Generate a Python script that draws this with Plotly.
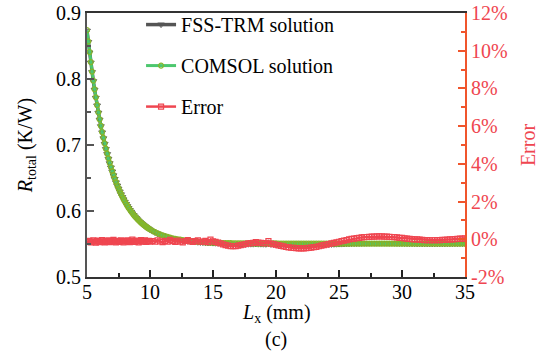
import plotly.graph_objects as go

# ---- data ----
Lx = [5.0, 5.1, 5.2, 5.3, 5.4, 5.5, 5.6, 5.7, 5.8, 5.9,
      6.0, 6.1, 6.2, 6.3, 6.4, 6.5, 6.6, 6.7, 6.8, 6.9,
      7.0, 7.1, 7.2, 7.3, 7.4, 7.5, 7.6, 7.7, 7.8, 7.9,
      8.0, 8.1, 8.2, 8.3, 8.4, 8.5, 8.6, 8.7, 8.8, 8.9,
      9.0, 9.1, 9.2, 9.3, 9.4, 9.5, 9.6, 9.7, 9.8, 9.9,
      10.0,
      10.2, 10.4, 10.6, 10.8, 11.0, 11.2, 11.4, 11.6, 11.8, 12.0,
      12.2, 12.4, 12.6, 12.8, 13.0, 13.2, 13.4, 13.6, 13.8, 14.0,
      14.2, 14.4, 14.6, 14.8, 15.0, 15.2, 15.4, 15.6, 15.8, 16.0,
      16.2, 16.4, 16.6, 16.8, 17.0, 17.2, 17.4, 17.6, 17.8, 18.0,
      18.2, 18.4, 18.6, 18.8, 19.0, 19.2, 19.4,
      19.6, 19.8, 20.0, 20.2, 20.4, 20.6, 20.8, 21.0, 21.2, 21.4, 21.6, 21.8, 22.0,
      22.2, 22.4, 22.6, 22.8, 23.0, 23.2, 23.4, 23.6, 23.8, 24.0,
      24.2, 24.4, 24.6, 24.8, 25.0, 25.2, 25.4, 25.6, 25.8, 26.0,
      26.2, 26.4, 26.6, 26.8, 27.0, 27.2, 27.4, 27.6, 27.8, 28.0,
      28.2, 28.4, 28.6, 28.8, 29.0, 29.2, 29.4, 29.6, 29.8, 30.0,
      30.2, 30.4, 30.6, 30.8, 31.0, 31.2, 31.4, 31.6, 31.8, 32.0,
      32.2, 32.4, 32.6, 32.8, 33.0, 33.2, 33.4, 33.6, 33.8, 34.0,
      34.2, 34.4, 34.6, 34.8, 35.0]

R_comsol = [0.8740, 0.8570, 0.8409, 0.8256, 0.8112, 0.7975, 0.7845, 0.7722, 0.7605, 0.7495,
            0.7390, 0.7291, 0.7197, 0.7108, 0.7024, 0.6944, 0.6869, 0.6797, 0.6729, 0.6665,
            0.6604, 0.6546, 0.6491, 0.6439, 0.6390, 0.6344, 0.6300, 0.6258, 0.6218, 0.6181,
            0.6145, 0.6112, 0.6080, 0.6050, 0.6021, 0.5994, 0.5968, 0.5944, 0.5921, 0.5899,
            0.5878, 0.5859, 0.5840, 0.5822, 0.5806, 0.5790, 0.5775, 0.5761, 0.5747, 0.5735,
            0.5722,
            0.5700, 0.5680, 0.5662, 0.5646, 0.5632, 0.5619, 0.5607, 0.5597, 0.5587, 0.5579,
            0.5571, 0.5565, 0.5558, 0.5553, 0.5548, 0.5544, 0.5540, 0.5536, 0.5533, 0.5530,
            0.5528, 0.5525, 0.5523, 0.5521, 0.5520, 0.5518, 0.5517, 0.5516, 0.5515, 0.5514,
            0.5513, 0.5512, 0.5511, 0.5511, 0.5510, 0.5509, 0.5509, 0.5509, 0.5509, 0.5509,
            0.5508, 0.5508, 0.5508, 0.5508, 0.5508, 0.5508, 0.5508,
            0.5508, 0.5508, 0.5508, 0.5507, 0.5507, 0.5507, 0.5507, 0.5507, 0.5507, 0.5507, 0.5507, 0.5507, 0.5507,
            0.5506, 0.5506, 0.5506, 0.5506, 0.5506, 0.5506, 0.5506, 0.5506, 0.5506, 0.5506,
            0.5506, 0.5506, 0.5506, 0.5506, 0.5506, 0.5505, 0.5505, 0.5505, 0.5505, 0.5505,
            0.5505, 0.5505, 0.5505, 0.5505, 0.5505, 0.5505, 0.5505, 0.5505, 0.5505, 0.5505,
            0.5505, 0.5505, 0.5505, 0.5505, 0.5505, 0.5505, 0.5505, 0.5505, 0.5505, 0.5505,
            0.5505, 0.5505, 0.5505, 0.5505, 0.5505, 0.5505, 0.5505, 0.5505, 0.5505, 0.5505,
            0.5505, 0.5505, 0.5505, 0.5505, 0.5505, 0.5505, 0.5505, 0.5505, 0.5505, 0.5505,
            0.5505, 0.5505, 0.5505, 0.5505, 0.5505]

R_fss = [0.8731, 0.8561, 0.8401, 0.8248, 0.8104, 0.7967, 0.7837, 0.7714, 0.7598, 0.7488,
         0.7383, 0.7284, 0.7190, 0.7101, 0.7017, 0.6938, 0.6862, 0.6791, 0.6723, 0.6659,
         0.6598, 0.6540, 0.6485, 0.6433, 0.6384, 0.6338, 0.6294, 0.6252, 0.6212, 0.6175,
         0.6139, 0.6106, 0.6074, 0.6044, 0.6015, 0.5988, 0.5962, 0.5938, 0.5915, 0.5893,
         0.5872, 0.5853, 0.5834, 0.5816, 0.5800, 0.5784, 0.5769, 0.5755, 0.5741, 0.5729,
         0.5716,
         0.5694, 0.5674, 0.5656, 0.5640, 0.5626, 0.5613, 0.5601, 0.5591, 0.5581, 0.5573,
         0.5565, 0.5559, 0.5552, 0.5547, 0.5542, 0.5538, 0.5534, 0.5530, 0.5527, 0.5524,
         0.5522, 0.5519, 0.5517, 0.5515, 0.5514, 0.5512, 0.5511, 0.5504, 0.5500, 0.5497,
         0.5494, 0.5492, 0.5491, 0.5491, 0.5491, 0.5492, 0.5494, 0.5495, 0.5497, 0.5498,
         0.5498, 0.5500, 0.5498, 0.5498, 0.5497, 0.5496, 0.5502,
         0.5495, 0.5494, 0.5492, 0.5489, 0.5488, 0.5486, 0.5484, 0.5483, 0.5482, 0.5482, 0.5481, 0.5481, 0.5481,
         0.5480, 0.5480, 0.5481, 0.5482, 0.5483, 0.5484, 0.5486, 0.5487, 0.5489, 0.5491,
         0.5492, 0.5494, 0.5496, 0.5497, 0.5499, 0.5499, 0.5501, 0.5503, 0.5504, 0.5506,
         0.5507, 0.5508, 0.5509, 0.5510, 0.5511, 0.5512, 0.5512, 0.5513, 0.5513, 0.5513,
         0.5513, 0.5513, 0.5513, 0.5513, 0.5512, 0.5512, 0.5511, 0.5510, 0.5509, 0.5509,
         0.5508, 0.5507, 0.5506, 0.5506, 0.5505, 0.5504, 0.5504, 0.5503, 0.5503, 0.5503,
         0.5502, 0.5502, 0.5502, 0.5503, 0.5503, 0.5503, 0.5503, 0.5504, 0.5504, 0.5505,
         0.5506, 0.5506, 0.5507, 0.5507, 0.5508]

error_pct = [-0.10, -0.14, -0.08, -0.16, -0.12, -0.05, -0.13, -0.18, -0.10, -0.07,
             -0.15, -0.11, -0.04, -0.14, -0.17, -0.09, -0.12, -0.06, -0.15, -0.10,
             -0.13, -0.03, -0.11, -0.16, -0.08, -0.12, -0.14, -0.05, -0.10, -0.17,
             -0.09, -0.13, -0.06, -0.11, -0.15, -0.08, -0.02, -0.12, -0.14, -0.07,
             -0.10, -0.16, -0.09, -0.04, -0.13, -0.11, -0.06, -0.14, -0.10, -0.08,
             -0.12,
             -0.09, -0.13, -0.05, -0.11, -0.15, -0.08, -0.12, -0.03, -0.10, -0.14,
             -0.07, -0.12, -0.16, -0.09, -0.04, -0.11, -0.14, -0.10, -0.06, -0.13,
             -0.12, -0.08, -0.15, -0.02, -0.11, -0.14, -0.18, -0.22, -0.27, -0.31,
             -0.34, -0.36, -0.37, -0.36, -0.34, -0.31, -0.28, -0.25, -0.22, -0.20,
             -0.19, -0.15, -0.18, -0.19, -0.20, -0.21, -0.10,
             -0.23, -0.26, -0.29, -0.32, -0.35, -0.38, -0.41, -0.43, -0.45, -0.46, -0.47, -0.48, -0.48,
             -0.48, -0.47, -0.46, -0.44, -0.42, -0.40, -0.37, -0.34, -0.31, -0.28,
             -0.25, -0.22, -0.19, -0.16, -0.13, -0.10, -0.07, -0.04, -0.01, 0.02,
             0.04, 0.06, 0.08, 0.10, 0.11, 0.12, 0.13, 0.14, 0.14, 0.15,
             0.15, 0.15, 0.14, 0.14, 0.13, 0.12, 0.11, 0.10, 0.08, 0.07,
             0.05, 0.04, 0.02, 0.01, 0.00, -0.01, -0.02, -0.03, -0.04, -0.04,
             -0.05, -0.05, -0.05, -0.04, -0.04, -0.03, -0.03, -0.02, -0.01, 0.00,
             0.01, 0.02, 0.03, 0.04, 0.05]

x_ticks = [5, 10, 15, 20, 25, 30, 35]
y_ticks = [0.5, 0.6, 0.7, 0.8, 0.9]
y_ticktext = ["0.5", "0.6", "0.7", "0.8", "0.9"]
y2_ticks = [-2, 0, 2, 4, 6, 8, 10, 12]
y2_ticktext = ["-2%", "0%", "2%", "4%", "6%", "8%", "10%", "12%"]

FONT = "Liberation Serif"
GREY = "#555555"
GREEN = "#4CC76E"
OLIVE = "#86B52A"
RED = "#EF4650"
ORANGE = "#F0552C"

fig = go.Figure()
fig.add_trace(go.Scatter(
    x=Lx, y=R_fss, name="FSS-TRM solution", mode="lines+markers",
    legendgroup="a",
    line=dict(color=GREY, width=3.5),
    marker=dict(symbol="triangle-down-open", size=6, color=GREY, line=dict(width=1, color=GREY)),
))
fig.add_trace(go.Scatter(
    x=Lx, y=R_comsol, name="COMSOL solution", mode="lines+markers",
    legendgroup="b",
    line=dict(color=GREEN, width=3),
    marker=dict(symbol="circle-open", size=5, color=OLIVE, line=dict(width=1.2, color=OLIVE)),
))
fig.add_trace(go.Scatter(
    x=Lx, y=error_pct, name="Error", mode="lines+markers", yaxis="y2",
    legendgroup="c",
    line=dict(color=RED, width=2.5),
    marker=dict(symbol="square-open", size=5, color=RED, line=dict(width=1.2, color=RED)),
))

fig.update_layout(
    width=551, height=356,
    margin=dict(l=87, r=86, t=13, b=79, autoexpand=False),
    paper_bgcolor="white", plot_bgcolor="white",
    font=dict(family=FONT, size=20, color="black"),
    showlegend=True,
    legend=dict(x=0.143, y=1.03, xanchor="left", yanchor="top",
                bgcolor="rgba(0,0,0,0)", borderwidth=0,
                font=dict(family=FONT, size=20, color="black"),
                tracegroupgap=12, itemwidth=30),
    xaxis=dict(
        range=[5, 35], tickmode="array", tickvals=x_ticks, ticks="inside", ticklen=7, tickwidth=1.5,
        tickcolor="#222222", showline=True, linecolor="#333333", linewidth=2,
        mirror=True, showgrid=False, zeroline=False, automargin=False,
        ticklabelstandoff=-4,
        minor=dict(ticks="inside", ticklen=4, dtick=2.5, tickcolor="#222222", tickwidth=1.5),
        tickfont=dict(family=FONT, size=20, color="black"),
    ),
    yaxis=dict(
        range=[0.5, 0.9], tickmode="array", tickvals=y_ticks, ticktext=y_ticktext,
        ticks="inside", ticklen=7,
        tickwidth=1.5, tickcolor=GREY, showline=True, linecolor=GREY, linewidth=2,
        showgrid=False, zeroline=False, automargin=False,
        minor=dict(ticks="inside", ticklen=4, dtick=0.05, tickcolor=GREY, tickwidth=1.5),
        tickfont=dict(family=FONT, size=20, color="black"),
        title=dict(text="<i>R</i><sub>total</sub> (K/W)", font=dict(family=FONT, size=20), standoff=18),
    ),
    yaxis2=dict(
        range=[-2, 12], tickmode="array", tickvals=y2_ticks, ticktext=y2_ticktext,
        overlaying="y", side="right",
        ticks="inside", ticklen=7, tickwidth=1.5, tickcolor=ORANGE,
        showline=True, linecolor=ORANGE, linewidth=2, showgrid=False, zeroline=False,
        automargin=False,
        minor=dict(ticks="inside", ticklen=4, dtick=1, tickcolor=ORANGE, tickwidth=1.5),
        tickfont=dict(family=FONT, size=20, color=RED),
        title=dict(text="Error", font=dict(family=FONT, size=20, color=RED), standoff=14),
    ),
    annotations=[
        dict(text="<i>L</i><sub>x</sub> (mm)", x=0.5, y=-0.14, xref="paper", yref="paper",
             xanchor="center", yanchor="middle", showarrow=False,
             font=dict(family=FONT, size=20, color="black")),
        dict(text="(c)", x=0.5, y=-0.235, xref="paper", yref="paper",
             xanchor="center", yanchor="middle", showarrow=False,
             font=dict(family=FONT, size=20, color="black")),
    ],
)

fig.write_html("out.html", config={"displayModeBar": False},
               post_script="document.body.style.margin='0';")
